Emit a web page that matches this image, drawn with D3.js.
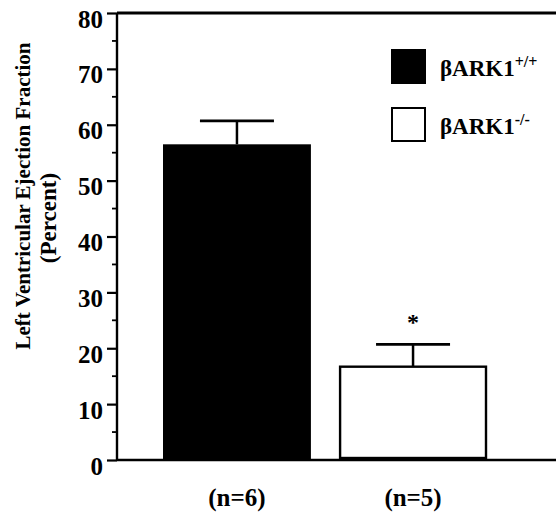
<!DOCTYPE html>
<html><head><meta charset="utf-8">
<script src="https://cdn.jsdelivr.net/npm/d3@7"></script>
<style>body{margin:0;background:#fff}svg{display:block}text{font-family:"Liberation Serif","Times New Roman",serif;font-weight:bold;fill:#000}</style>
</head><body><svg id="c" width="556" height="514"></svg>
<script>
const categories = ["(n=6)", "(n=5)"];
const genotypes = ["+/+", "-/-"];
const means = [56.5, 16.7];
const errors = [4.2, 4.0];
const yTicks = [0, 10, 20, 30, 40, 50, 60, 70, 80];
const significance = ["", "*"];

const svg = d3.select("#c");
const x0 = 117, x1 = 556;
const y = d3.scaleLinear().domain([0, 80]).range([460, 13]);
const x = d3.scaleBand().domain(categories).range([163, 487]).paddingInner(0.16).paddingOuter(0);

const g = svg.append("g");
categories.forEach((c, i) => {
  const bx = x(c), bw = x.bandwidth();
  const cx = bx + bw / 2;
  const top = y(means[i] + errors[i]);
  g.append("line").attr("x1", cx).attr("x2", cx).attr("y1", y(means[i])).attr("y2", top)
    .attr("stroke", "#000").attr("stroke-width", 2.5);
  g.append("line").attr("x1", cx - 37).attr("x2", cx + 37).attr("y1", top).attr("y2", top)
    .attr("stroke", "#000").attr("stroke-width", 2.8);
  if (i === 0) {
    g.append("rect").attr("x", bx).attr("y", y(means[i])).attr("width", bw).attr("height", y(0) - y(means[i])).attr("fill", "#000");
  } else {
    g.append("rect").attr("x", bx + 1).attr("y", y(means[i])).attr("width", bw - 2).attr("height", y(0) - y(means[i]) - 2)
      .attr("fill", "#fff").attr("stroke", "#000").attr("stroke-width", 2.4);
  }
  if (significance[i]) {
    g.append("text").attr("x", cx).attr("y", top - 14).attr("text-anchor", "middle")
      .attr("font-size", 24).text(significance[i]);
  }
  svg.append("text").attr("x", cx).attr("y", 506).attr("text-anchor", "middle").attr("font-size", 25).text(c);
});

// y axis
const yAxis = d3.axisLeft(y).tickValues(yTicks).tickSize(10).tickPadding(4).tickFormat(d3.format("d"));
const ag = svg.append("g").attr("transform", `translate(${x0},0)`).call(yAxis);
ag.attr("font-family", null).attr("font-size", null);
ag.select(".domain").attr("stroke-width", 2.4).attr("d", `M0,${y(0)}V${y(80)}`);
ag.selectAll(".tick line").attr("stroke-width", 2.2);
ag.selectAll(".tick text").attr("font-size", 25).attr("dy", "0.56em");
const minor = d3.range(5, 80, 10);
svg.append("g").selectAll("line").data(minor).join("line")
  .attr("x1", x0 - 5).attr("x2", x0).attr("y1", d => y(d)).attr("y2", d => y(d)).attr("stroke", "#000").attr("stroke-width", 1.8);
svg.append("line").attr("x1", x0).attr("x2", x1).attr("y1", y(80)).attr("y2", y(80)).attr("stroke", "#000").attr("stroke-width", 3);
svg.append("line").attr("x1", x0).attr("x2", x1).attr("y1", y(0)).attr("y2", y(0)).attr("stroke", "#000").attr("stroke-width", 2.6);

// y title
svg.append("text").attr("transform", "translate(30,196) rotate(-90)").attr("text-anchor", "middle").attr("font-size", 21)
  .text("Left Ventricular Ejection Fraction");
svg.append("text").attr("transform", "translate(56,218) rotate(-90)").attr("text-anchor", "middle").attr("font-size", 23)
  .text("(Percent)");

// legend
const lg = svg.append("g");
genotypes.forEach((gt, i) => {
  const ly = 49 + i * 58;
  lg.append("rect").attr("x", i ? 392 : 391).attr("y", i ? ly + 1 : ly).attr("width", i ? 33 : 35).attr("height", i ? 33 : 35)
    .attr("fill", i ? "#fff" : "#000").attr("stroke", "#000").attr("stroke-width", i ? 2 : 0);
  const tx = lg.append("text").attr("x", 440).attr("y", ly + 27).attr("font-size", 23);
  tx.append("tspan").text("βARK1");
  tx.append("tspan").attr("dy", -9).attr("font-size", 16).text(gt);
});
</script></body></html>
